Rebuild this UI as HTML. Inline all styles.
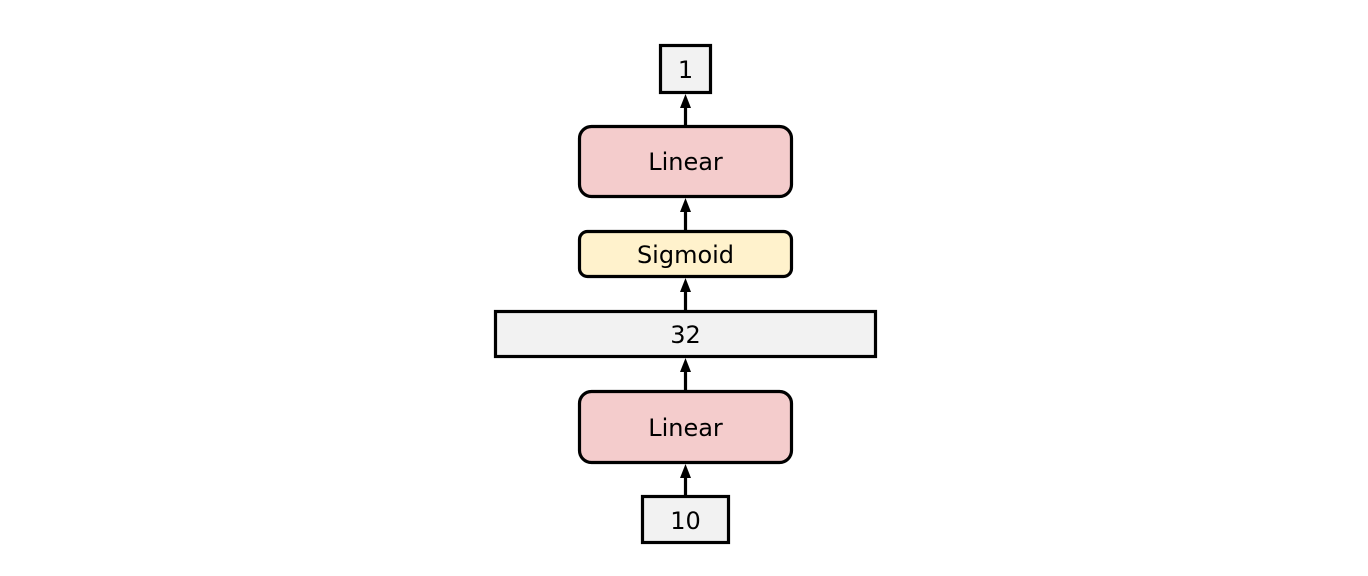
<!DOCTYPE html>
<html><head><meta charset="utf-8"><style>
html,body{margin:0;padding:0;background:#fff;}
svg{display:block;}
text{font-family:"DejaVu Sans","Liberation Sans",sans-serif;font-size:24px;fill:#000;text-anchor:middle;dominant-baseline:central;}
</style></head><body>
<svg width="1368" height="576" viewBox="0 0 1368 576" xmlns="http://www.w3.org/2000/svg">
<g stroke="#000" stroke-width="3.2">
<rect x="660.5" y="45.5" width="50" height="47" fill="#f2f2f2"/>
<rect x="579.5" y="126.5" width="212" height="70" rx="12" fill="#f4cccc"/>
<rect x="579.5" y="231.5" width="212" height="45" rx="8" fill="#fff2cc"/>
<rect x="495.5" y="311.5" width="380" height="45" fill="#f2f2f2"/>
<rect x="579.5" y="391.5" width="212" height="71" rx="12" fill="#f4cccc"/>
<rect x="642.5" y="496.5" width="86" height="46" fill="#f2f2f2"/>
<line x1="685.5" y1="105" x2="685.5" y2="125"/>
<line x1="685.5" y1="209" x2="685.5" y2="230"/>
<line x1="685.5" y1="289" x2="685.5" y2="310"/>
<line x1="685.5" y1="369" x2="685.5" y2="390"/>
<line x1="685.5" y1="475" x2="685.5" y2="495"/>
</g>
<g fill="#000">
<polygon points="685.5,94 680,108 691,108"/>
<polygon points="685.5,198 680,212 691,212"/>
<polygon points="685.5,278 680,292 691,292"/>
<polygon points="685.5,358 680,372 691,372"/>
<polygon points="685.5,464 680,478 691,478"/>
</g>
<text x="685.5" y="70">1</text>
<text x="685.5" y="162">Linear</text>
<text x="685.5" y="255">Sigmoid</text>
<text x="685.5" y="335">32</text>
<text x="685.5" y="428">Linear</text>
<text x="685.5" y="521">10</text>
</svg>
</body></html>
